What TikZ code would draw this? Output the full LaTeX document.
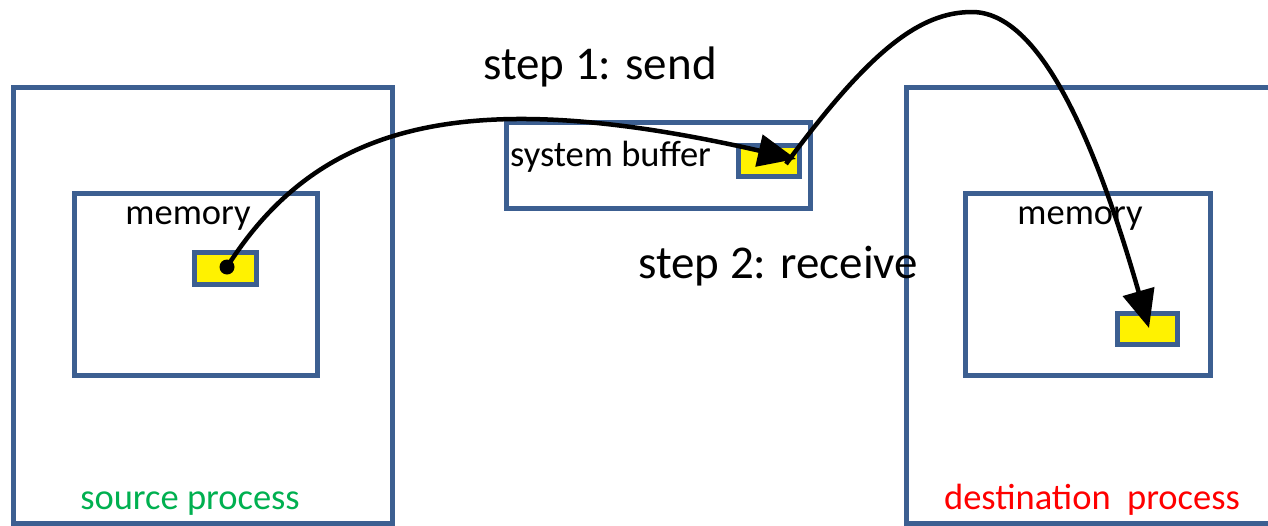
\documentclass[tikz,border=0pt]{standalone}
\usepackage{fontspec}
\setmainfont{Carlito}
\usetikzlibrary{arrows.meta}
\definecolor{boxblue}{RGB}{60,95,145}
\definecolor{srcgreen}{RGB}{0,176,80}
\begin{document}
\begin{tikzpicture}[x=1pt,y=-1pt,
  procbox/.style={draw=boxblue,line width=5pt},
  bufbox/.style={draw=boxblue,line width=4.5pt,fill=yellow},
  lbl/.style={inner sep=0pt,font=\fontsize{36.5}{40}\selectfont},
  steplbl/.style={inner sep=0pt,font=\fontsize{47}{52}\selectfont},
  flow/.style={line width=4.5pt,-{Triangle[length=38pt,width=32pt]}}]
\useasboundingbox (0,0) rectangle (1268,525);
% source process
\draw[procbox] (13,87) rectangle (392,523);
\draw[procbox] (74,193) rectangle (317,375);
\node[bufbox,minimum width=62pt,minimum height=32pt,inner sep=0pt] (sbuf) at (225.5,268.5) {};
\node[lbl,anchor=base] (smem) at (188,224) {memory};
\node[lbl,anchor=base,text=srcgreen] (slbl) at (190,509) {source process};
% system buffer
\draw[procbox] (506,122) rectangle (810,208);
\node[lbl,anchor=base west] (sysl) at (510,166) {system buffer};
\node[bufbox,minimum width=61pt,minimum height=31pt,inner sep=0pt] (ybuf) at (769,161) {};
% destination process
\draw[procbox] (906,87) rectangle (1300,523);
\draw[procbox] (965,193) rectangle (1210,375);
\node[bufbox,minimum width=60pt,minimum height=31pt,inner sep=0pt] (dbuf) at (1147.5,329) {};
\node[lbl,anchor=base] (dmem) at (1080,224) {memory};
\node[lbl,anchor=base,text=red] (dlbl) at (1092,509) {destination\ \ process};
% step labels
\node[steplbl,anchor=base] (s1) at (600,79) {step 1: send};
\node[steplbl,anchor=base west] (s2) at (638,278) {step 2: receive};
% arrows
\coordinate (p0) at (227,267);
\coordinate (p1) at (796,159);
\coordinate (q0) at (786,164);
\coordinate (qtop) at (972,12);
\coordinate (q1) at (1149,328);
\fill (p0) circle (7.5pt);
\draw[flow] (p0) .. controls (320,120) and (470,85) .. (p1);
\draw[flow] (q0) .. controls (870,50) and (920,12) .. (qtop) .. controls (1040,12) and (1095,140) .. (q1);
\end{tikzpicture}
\end{document}
